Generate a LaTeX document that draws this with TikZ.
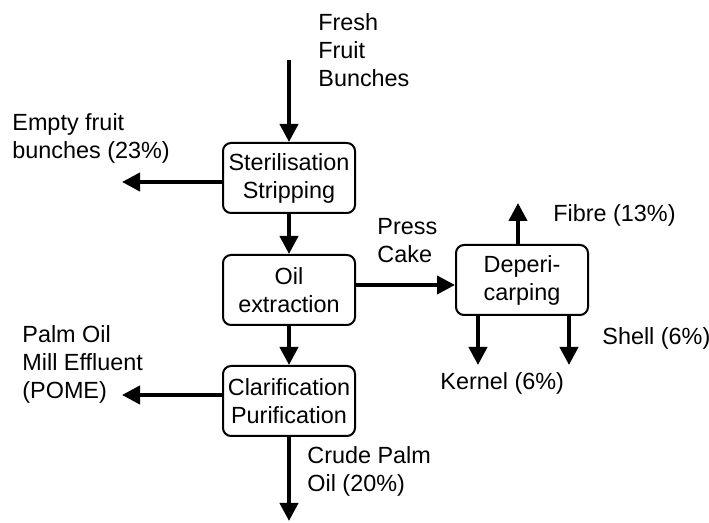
\documentclass[tikz,border=0pt]{standalone}
\usepackage{fontspec}
\setmainfont{Liberation Sans}
\usetikzlibrary{arrows.meta,positioning}

\begin{document}
\begin{tikzpicture}[
    x=0.5pt, y=-0.5pt,
    font=\fontsize{11.7}{14}\selectfont,
    block/.style={rectangle, rounded corners=4pt, draw=black, line width=1pt, minimum width=66pt, minimum height=35pt, align=center, inner sep=1pt},
    lbl/.style={anchor=west, align=left, inner sep=0pt},
    arr/.style={-{Triangle[length=9pt, width=9pt]}, line width=2pt}
]
\useasboundingbox (0,0) rectangle (709,523);

\node[block] (ster) at (289,178) {Sterilisation\\Stripping};
\node[block] (oil) at (289,290) {Oil\\extraction};
\node[block] (clar) at (289,401) {Clarification\\Purification};
\node[block] (depr) at (522,280) {Deperi-\\carping};

\coordinate (ffb) at (289,60);
\coordinate (efb) at (122,182);
\coordinate (pome) at (122,395);
\coordinate (cpo) at (289,521);
\coordinate (fib) at (518,203);
\coordinate (kern) at (478,365);
\coordinate (shell) at (569,365);

\node[lbl] (ffbtxt) at (318,50) {Fresh\\Fruit\\Bunches};
\node[lbl] (efbtxt) at (12,138) {Empty fruit\\bunches (23\%)};
\node[lbl] (pctxt) at (377,241) {Press\\Cake};
\node[lbl] (fibtxt) at (553,215) {Fibre (13\%)};
\node[lbl] (shelltxt) at (602,338) {Shell (6\%)};
\node[lbl] (kerntxt) at (440,383) {Kernel (6\%)};
\node[lbl] (pometxt) at (22,364) {Palm Oil\\Mill Effluent\\(POME)};
\node[lbl] (cpotxt) at (307,471) {Crude Palm\\Oil (20\%)};

\draw[arr] (ffb) -- (ster.north);
\draw[arr] (ster.west |- efb) -- (efb);
\draw[arr] (ster) -- (oil);
\draw[arr] ([yshift=2.5pt]oil.east) -- ([yshift=-2.5pt]depr.west);
\draw[arr] (oil) -- (clar);
\draw[arr] (clar.west |- pome) -- (pome);
\draw[arr] (clar) -- (cpo);
\draw[arr] (fib |- depr.north) -- (fib);
\draw[arr] (kern |- depr.south) -- (kern);
\draw[arr] (shell |- depr.south) -- (shell);
\end{tikzpicture}
\end{document}
